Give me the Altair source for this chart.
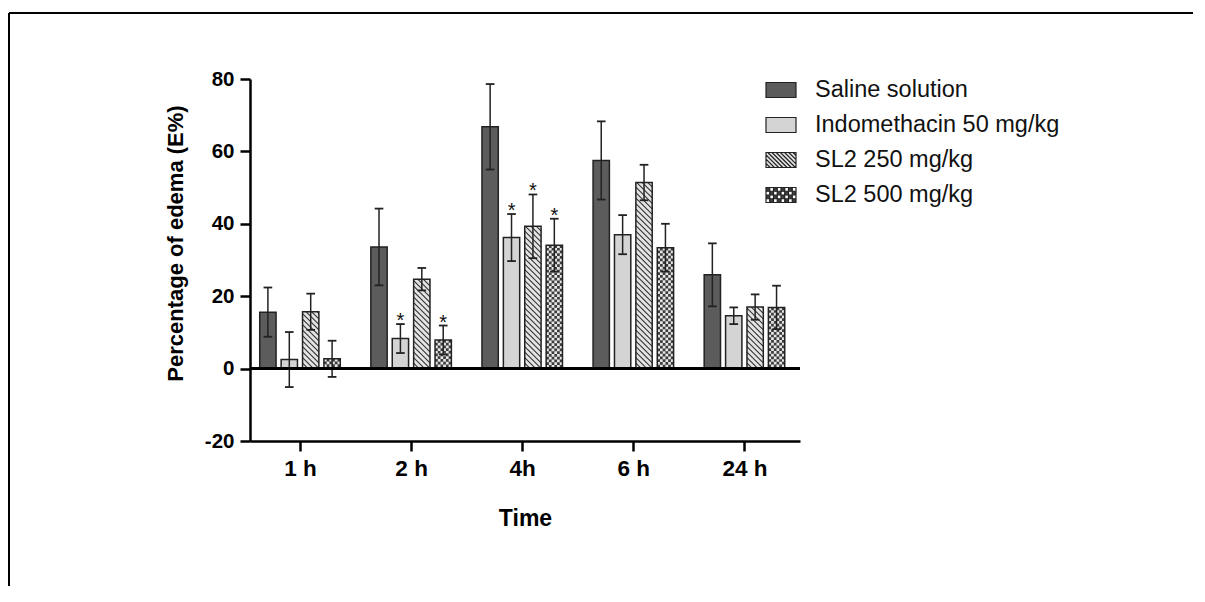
import altair as alt
import pandas as pd

# ---------------- data ----------------
times = ["1 h", "2 h", "4h", "6 h", "24 h"]
series_names = ["Saline solution", "Indomethacin 50 mg/kg", "SL2 250 mg/kg", "SL2 500 mg/kg"]

saline_mean = [15.6, 33.6, 66.8, 57.5, 25.9]
saline_err = [6.8, 10.6, 11.8, 10.8, 8.7]
indo_mean = [2.5, 8.3, 36.2, 37.0, 14.6]
indo_err = [7.6, 4.0, 6.5, 5.4, 2.3]
sl2_250_mean = [15.7, 24.7, 39.3, 51.4, 17.0]
sl2_250_err = [5.0, 3.1, 8.8, 4.9, 3.5]
sl2_500_mean = [2.7, 7.9, 34.1, 33.4, 16.9]
sl2_500_err = [5.0, 4.0, 7.3, 6.6, 6.0]

# significance marks (*)
saline_sig = [0, 0, 0, 0, 0]
indo_sig = [0, 1, 1, 0, 0]
sl2_250_sig = [0, 0, 1, 0, 0]
sl2_500_sig = [0, 1, 1, 0, 0]

y_ticks = [-20, 0, 20, 40, 60, 80]

# ---------------- styling / layout ----------------
FONT = "Liberation Sans"
fills = ["#5c5c5c", "#d4d4d4", "#e4e4e4", "#3c3c3c"]
W, H = 550, 362
X_DOM = [-0.45, 4.5]
Y_DOM = [-20, 80]
PX_X = W / (X_DOM[1] - X_DOM[0])
PX_Y = H / (Y_DOM[1] - Y_DOM[0])
STEP = 0.1926      # distance between bars of one group (x units)
BAR_W = 0.147      # bar width (x units)
CAP = 0.039        # half width of error caps

means = [saline_mean, indo_mean, sl2_250_mean, sl2_500_mean]
errs = [saline_err, indo_err, sl2_250_err, sl2_500_err]
sigs = [saline_sig, indo_sig, sl2_250_sig, sl2_500_sig]

rows = []
for si, name in enumerate(series_names):
    for gi, t in enumerate(times):
        xc = gi + (si - 1.5) * STEP
        v, e = means[si][gi], errs[si][gi]
        rows.append(dict(time=t, series=name, xc=xc,
                         x0=xc - BAR_W / 2, x1=xc + BAR_W / 2,
                         c0=xc - CAP, c1=xc + CAP,
                         value=v, lo=v - e, hi=v + e,
                         star="*" if sigs[si][gi] else ""))
df = pd.DataFrame(rows)

# diagonal hatch for SL2 250 bars (derived from bar values)
hatch_rows = []
SP = 5.5
w_px = BAR_W * PX_X
for gi in range(len(times)):
    v = sl2_250_mean[gi]
    x0 = gi + (2 - 1.5) * STEP - BAR_W / 2
    hp = v * PX_Y
    k = 1
    while k * SP < hp + w_px:
        c = k * SP
        u0 = max(0.0, c - hp)
        u1 = min(w_px, c)
        if u1 - u0 > 0.4:
            hatch_rows.append(dict(xa=x0 + u0 / PX_X, ya=(c - u0) / PX_Y,
                                   xb=x0 + u1 / PX_X, yb=(c - u1) / PX_Y))
        k += 1
hatch_df = pd.DataFrame(hatch_rows)

# checker columns for SL2 500 bars
N_COL = 6
cw = BAR_W / N_COL
CELL = cw * PX_X
check_rows = []
for gi in range(len(times)):
    v = sl2_500_mean[gi]
    x0 = gi + (3 - 1.5) * STEP - BAR_W / 2
    for c in range(N_COL):
        check_rows.append(dict(x=x0 + (c + 0.5) * cw, top=v, parity=c % 2))
check_df = pd.DataFrame(check_rows)

# legend symbol shapes
def f(v):
    return f"{v:.3f}"

rect_path = "M-1,-0.5H1V0.5H-1Z"
hatch_path = rect_path
a = -2.0
while a < 1.0:
    sx = max(a, -1.0); ex = min(a + 1.0, 1.0)
    if ex - sx > 0.05:
        hatch_path += f"M{f(sx)},{f(-0.5 + sx - a)}L{f(ex)},{f(-0.5 + ex - a)}"
    a += 0.28
check_path = rect_path
s = 0.25
for j in range(4):
    for i in range(8):
        if (i + j) % 2 == 1:
            x = -1 + i * s; y = -0.5 + j * s
            check_path += f"M{f(x)},{f(y)}V{f(y + s)}H{f(x + s)}V{f(y)}Z"
shapes = [rect_path, rect_path, hatch_path, check_path]

# ---------------- encodings ----------------
label_expr = "[" + ",".join(f"'{t}'" for t in times) + "][datum.value]"
XAX = alt.Axis(values=list(range(len(times))), labelExpr=label_expr, title="Time",
               labelFontSize=22.5, labelPadding=6, titleFontSize=23, titlePadding=28,
               labelFlush=False, labelOverlap=False)
YAX = alt.Axis(values=y_ticks, labelExpr="'' + datum.value",
               title="Percentage of edema (E%)", labelFontSize=20.5,
               labelPadding=6, titleFontSize=22, titlePadding=17, titleY=164)
XS = alt.Scale(domain=X_DOM, nice=False, zero=False)
YS = alt.Scale(domain=Y_DOM, nice=False, zero=False)

def X(field):
    return alt.X(field, type="quantitative", scale=XS, axis=XAX)

def Y(field):
    return alt.Y(field, type="quantitative", scale=YS, axis=YAX)

FILL_SCALE = alt.Scale(domain=series_names, range=fills)
SHAPE_SCALE = alt.Scale(domain=series_names, range=shapes)
STROKE_SCALE = alt.Scale(domain=series_names, range=["#222"] * len(series_names))
LEG = alt.Legend(title=None, orient="none", legendX=515, legendY=-5, symbolSize=900,
                 labelFontSize=23.5, labelFont=FONT, labelColor="#111", labelOffset=18,
                 rowPadding=7, symbolStrokeColor="#222", symbolStrokeWidth=1.2,
                 labelLimit=400)

base = alt.Chart(df)

legend_layer = base.transform_filter("false").mark_point(
    filled=True, strokeWidth=1.2, opacity=1).encode(
    x=X("xc"), y=Y("value"),
    fill=alt.Fill("series:N", scale=FILL_SCALE, legend=LEG),
    shape=alt.Shape("series:N", scale=SHAPE_SCALE, legend=LEG),
    stroke=alt.Stroke("series:N", scale=STROKE_SCALE, legend=LEG))

bars = base.mark_bar(strokeWidth=0).encode(
    x=X("x0"), x2="x1", y=Y("value"), y2=alt.datum(0),
    fill=alt.Fill("series:N", scale=FILL_SCALE, legend=LEG))

hatch = alt.Chart(hatch_df).mark_rule(color="#333", strokeWidth=1.1).encode(
    x=X("xa"), y=Y("ya"), x2="xb", y2="yb")

check0 = alt.Chart(check_df).transform_filter("datum.parity == 0").mark_rule(
    color="#e6e6e6", strokeWidth=CELL, strokeDash=[CELL, CELL]).encode(
    x=X("x"), y=Y("top"), y2=alt.datum(0))
check1 = alt.Chart(check_df).transform_filter("datum.parity == 1").mark_rule(
    color="#e6e6e6", strokeWidth=CELL, strokeDash=[CELL, CELL], strokeDashOffset=CELL).encode(
    x=X("x"), y=Y("top"), y2=alt.datum(0))

outline = base.mark_bar(filled=False, color="#222", strokeWidth=1.5).encode(
    x=X("x0"), x2="x1", y=Y("value"), y2=alt.datum(0))

err_line = base.mark_rule(color="#222", strokeWidth=1.5).encode(
    x=X("xc"), y=Y("lo"), y2="hi")
cap_hi = base.mark_rule(color="#222", strokeWidth=1.8).encode(
    x=X("c0"), x2="c1", y=Y("hi"))
cap_lo = base.mark_rule(color="#222", strokeWidth=1.8).encode(
    x=X("c0"), x2="c1", y=Y("lo"))

zero_line = base.mark_rule(color="black", strokeWidth=2.5).encode(y=alt.datum(0))

stars = base.transform_filter("datum.star != ''").mark_text(
    font=FONT, fontSize=20, color="#111", baseline="alphabetic", dy=3).encode(
    x=X("xc"), y=Y("hi"), text="star:N")

frame_src = alt.Chart(pd.DataFrame({"k": [0]}))
frame_top = frame_src.mark_rule(color="black", strokeWidth=2).encode(
    x=alt.value(-241), x2=alt.value(W + 420), y=alt.value(-66))
frame_left = frame_src.mark_rule(color="black", strokeWidth=2).encode(
    x=alt.value(-241), y=alt.value(-66), y2=alt.value(H + 160))

chart = alt.layer(
    legend_layer, bars, hatch, check0, check1, outline,
    err_line, cap_hi, cap_lo, zero_line, stars, frame_top, frame_left
).properties(
    width=W, height=H, background="white",
    autosize=alt.AutoSizeParams(type="none"),
    padding={"left": 242, "top": 71, "right": 393, "bottom": 145},
).configure_view(strokeWidth=0).configure_axis(
    grid=False, domainColor="black", domainWidth=2.5, tickColor="black",
    tickWidth=2.5, tickSize=10, labelFont=FONT, labelFontWeight="bold",
    labelColor="black", titleFont=FONT, titleFontWeight="bold", titleColor="black"
)

chart.save("out.html", embed_options={"renderer": "svg", "actions": False})
